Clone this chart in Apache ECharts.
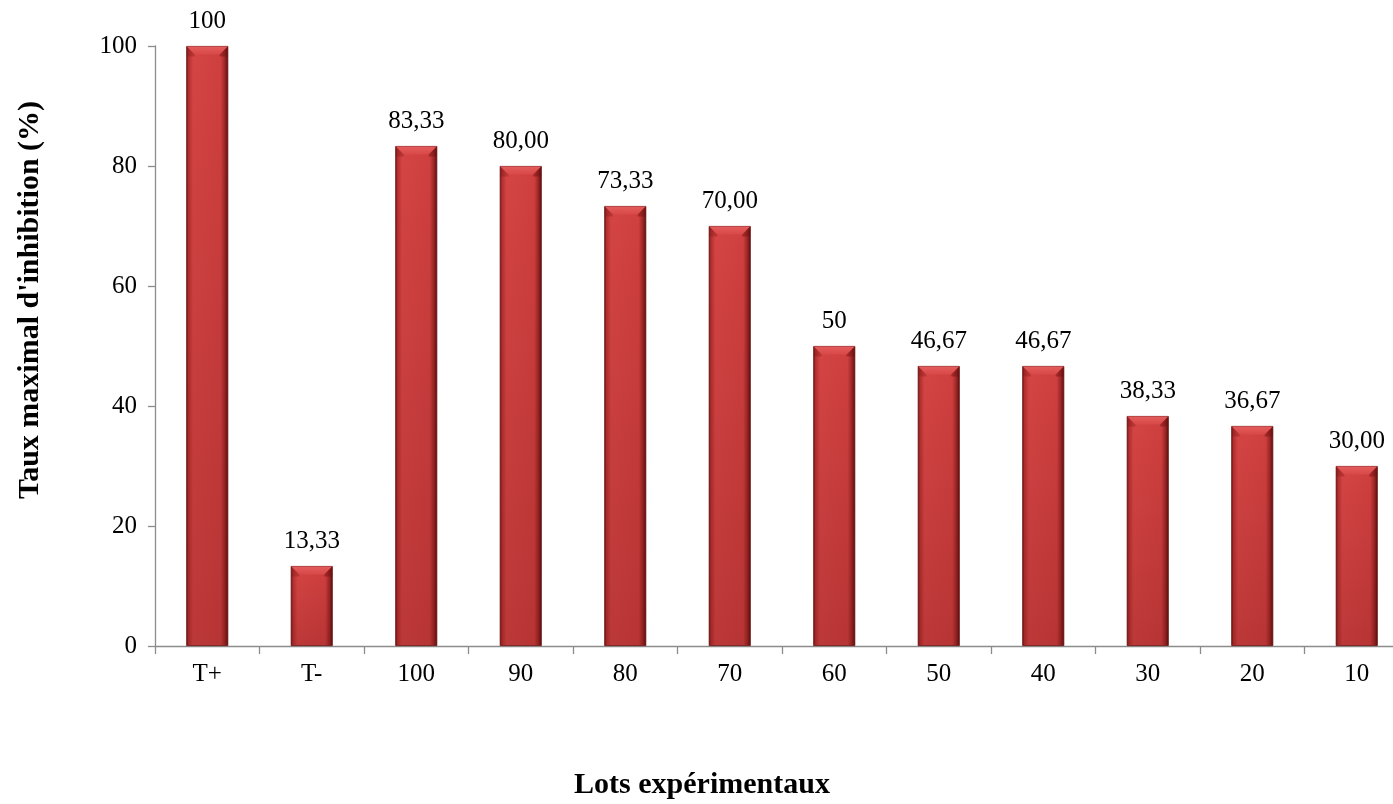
<!DOCTYPE html>
<html>
<head>
<meta charset="utf-8">
<style>
  html, body { margin: 0; padding: 0; background: #ffffff; overflow: hidden; }
  #chart { width: 1420px; height: 804px; }
</style>
<script src="https://cdn.jsdelivr.net/npm/echarts@6/dist/echarts.min.js"></script>
</head>
<body>
<div id="chart"></div>
<script>
// Experimental groups along the x axis
const categories = ['T+', 'T-', '100', '90', '80', '70', '60', '50', '40', '30', '20', '10'];
// Maximal inhibition rate (%) per group
const values = [100, 13.33, 83.33, 80, 73.33, 70, 50, 46.67, 46.67, 38.33, 36.67, 30];
// How each value is written above its bar
const valueLabels = ['100', '13,33', '83,33', '80,00', '73,33', '70,00', '50', '46,67', '46,67', '38,33', '36,67', '30,00'];
// Y axis ticks
const yTicks = [0, 20, 40, 60, 80, 100];

const FONT = "'Liberation Serif', 'Times New Roman', serif";

const chart = echarts.init(document.getElementById('chart'), null, { renderer: 'canvas' });

// side-to-side shading of the bar body
const bodyGradient = new echarts.graphic.LinearGradient(0, 0, 1, 0, [
  { offset: 0, color: '#641010' },
  { offset: 0.05, color: '#b22e2e' },
  { offset: 0.16, color: '#d44444' },
  { offset: 0.82, color: '#cf3f3f' },
  { offset: 0.92, color: '#9c2626' },
  { offset: 1, color: '#560c0c' }
]);

chart.setOption({
  animation: false,
  backgroundColor: '#ffffff',
  grid: { left: 155, right: 11, top: 46, bottom: 158, containLabel: false },
  xAxis: {
    type: 'category',
    data: categories,
    axisLine: { lineStyle: { color: '#8c8c8c', width: 1.3 } },
    axisTick: { show: true, length: 8, alignWithLabel: false, lineStyle: { color: '#8c8c8c', width: 1.3 } },
    axisLabel: { color: '#000', fontFamily: FONT, fontSize: 25, margin: 16 }
  },
  yAxis: {
    type: 'value',
    min: yTicks[0],
    max: yTicks[yTicks.length - 1],
    interval: yTicks[1] - yTicks[0],
    splitLine: { show: false },
    axisLine: { show: true, lineStyle: { color: '#8c8c8c', width: 1.3 } },
    axisTick: { show: true, length: 7, lineStyle: { color: '#8c8c8c', width: 1.3 } },
    axisLabel: { color: '#000', fontFamily: FONT, fontSize: 25, margin: 18 }
  },
  series: [
    {
      type: 'bar',
      data: values,
      barWidth: 42,
      itemStyle: { color: bodyGradient, borderColor: '#6a1010', borderWidth: 0.8 },
      label: {
        show: true,
        position: 'top',
        distance: 12,
        color: '#000',
        fontFamily: FONT,
        fontSize: 25,
        formatter: p => valueLabels[p.dataIndex]
      },
      z: 2
    },
    {
      // bevelled cap and downward darkening on every bar
      type: 'custom',
      data: values.map((v, i) => [i, v]),
      silent: true,
      z: 3,
      renderItem: function (params, api) {
        const top = api.coord([api.value(0), api.value(1)]);
        const base = api.coord([api.value(0), 0]);
        const half = 21;
        const b = 8;
        const x0 = top[0] - half + 0.5, x1 = top[0] + half - 0.5, y0 = top[1] + 0.5;
        return {
          type: 'group',
          children: [
            {
              type: 'rect',
              shape: { x: x0, y: y0, width: x1 - x0, height: base[1] - y0 },
              style: {
                fill: new echarts.graphic.LinearGradient(0, 0, 0, 1, [
                  { offset: 0, color: 'rgba(90,10,10,0)' },
                  { offset: 1, color: 'rgba(90,10,10,0.2)' }
                ])
              }
            },
            {
              type: 'polygon',
              shape: { points: [[x0, y0], [x1, y0], [x1 - b, y0 + b], [x0 + b, y0 + b]] },
              style: {
                fill: new echarts.graphic.LinearGradient(0, 0, 0, 1, [
                  { offset: 0, color: '#e45c5c' },
                  { offset: 1, color: '#d84848' }
                ])
              }
            },
            {
              type: 'polygon',
              shape: { points: [[x0, y0], [x0 + b, y0 + b], [x0 + b, y0 + b + 2], [x0, y0 + b + 2]] },
              style: { fill: 'rgba(120,20,20,0.3)' }
            },
            {
              type: 'polygon',
              shape: { points: [[x1, y0], [x1 - b, y0 + b], [x1 - b, y0 + b + 2], [x1, y0 + b + 2]] },
              style: { fill: 'rgba(110,15,15,0.45)' }
            }
          ]
        };
      }
    }
  ],
  graphic: [
    {
      type: 'text',
      x: 702,
      y: 785,
      style: {
        text: 'Lots expérimentaux',
        fontFamily: FONT,
        fontWeight: 'bold',
        fontSize: 30,
        fill: '#000',
        align: 'center',
        verticalAlign: 'middle'
      }
    },
    {
      type: 'text',
      x: 30,
      y: 300,
      rotation: Math.PI / 2,
      style: {
        text: "Taux maximal d'inhibition (%)",
        fontFamily: FONT,
        fontWeight: 'bold',
        fontSize: 30,
        fill: '#000',
        align: 'center',
        verticalAlign: 'middle'
      }
    }
  ]
});
</script>
</body>
</html>
